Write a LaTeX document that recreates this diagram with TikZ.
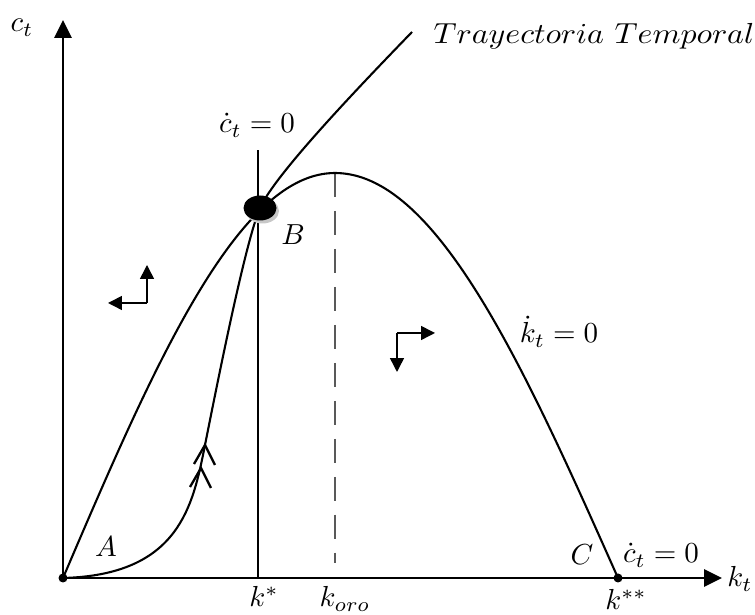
\documentclass[tikz,border=0pt]{standalone}
\usepackage{graphicx}
\usetikzlibrary{arrows.meta}
\begin{document}
\begin{tikzpicture}[x=0.345pt,y=0.345pt,
  axis/.style={line width=0.9pt,-{Triangle[length=6.2pt,width=5.9pt]}},
  curve/.style={line width=0.72pt},
  dirarrow/.style={line width=0.52pt,-{Triangle[length=4.8pt,width=4.8pt]}},
  lbl/.style={anchor=base,inner sep=0pt},
]
\useasboundingbox (0,0) rectangle (755,615);
% key points
\coordinate (O) at (63,37);
\coordinate (ytop) at (63,595);
\coordinate (xtip) at (722,37);
\coordinate (kstar) at (258,37);
\coordinate (kstartop) at (258,465);
\coordinate (peak) at (335,442);
\coordinate (koro) at (335,52);
\coordinate (kss) at (618,37);
\coordinate (Bc) at (260,407);
\coordinate (ch1) at (205,170);
\coordinate (tend) at (412,583);
% axes
\draw[axis] (O) -- (ytop);
\draw[axis] (O) -- (xtip);
% c-dot = 0 line at k*
\draw[curve] (kstar) -- (kstartop);
% golden rule dashed line
\draw[line width=0.55pt,gray!70!black,dash pattern=on 8.3pt off 4.8pt] (peak) -- (koro);
% k-dot = 0 curve
\draw[curve] plot[domain=63:335,samples=80] (\x,{37+405*cos((335-\x)*0.33088)})
  -- plot[domain=335:618,samples=80] (\x,{37+405*cos((\x-335)*0.31802)});
% saddle path (trayectoria temporal)
\draw[curve] (O) .. controls (180,40) and (193,110) .. (ch1)
  .. controls (217,230) and (245,372) .. (Bc)
  .. controls (275,440) and (352,521) .. (tend);
% double chevrons on the saddle path
\coordinate (ch1l) at (194,151);
\coordinate (ch1r) at (215,150);
\coordinate (ch2) at (201,147);
\coordinate (ch2l) at (190,128);
\coordinate (ch2r) at (211,127);
\draw[curve,line width=0.8pt] (ch1l) -- (ch1) -- (ch1r);
\draw[curve,line width=0.8pt] (ch2l) -- (ch2) -- (ch2r);
% steady state B
\fill[black!22] ([shift={(2.5,-3)}]Bc) ellipse [x radius=16.5, y radius=12.5];
\fill (Bc) ellipse [x radius=16.5, y radius=12.5];
% dots
\fill (O) circle (4.5);
\fill (kss) circle (4.5);
% direction arrows
\coordinate (dl) at (147,312);
\coordinate (dlu) at (147,350);
\coordinate (dll) at (108,312);
\draw[dirarrow] (dl) -- (dlu);
\draw[dirarrow] (dl) -- (dll);
\coordinate (dr) at (397,282);
\coordinate (drr) at (435,282);
\coordinate (drd) at (397,243);
\draw[dirarrow] (dr) -- (drr);
\draw[dirarrow] (dr) -- (drd);
% labels
\node[lbl] (lct) at (22,583) {$c_t$};
\node[lbl] (lkt) at (740,28) {$k_t$};
\node[lbl] (lcdot) at (257,482) {$\dot{c}_t=0$};
\node[lbl] (lB) at (293,370) {$B$};
\node[lbl] (ltray) at (594,571) {\scalebox{1.1}[1]{$Trayectoria\ Temporal$}};
\node[lbl] (lkdot) at (559,272) {$\dot{k}_t=0$};
\node[lbl] (lA) at (106,58) {$A$};
\node[lbl] (lC) at (582,50) {$C$};
\node[lbl] (lcdot2) at (661,52) {$\dot{c}_t=0$};
\node[lbl] (lks) at (264,8) {$k^{*}$};
\node[lbl] (lkoro) at (345,8) {$k_{oro}$};
\node[lbl] (lkss) at (626,5) {$k^{**}$};
\end{tikzpicture}
\end{document}
